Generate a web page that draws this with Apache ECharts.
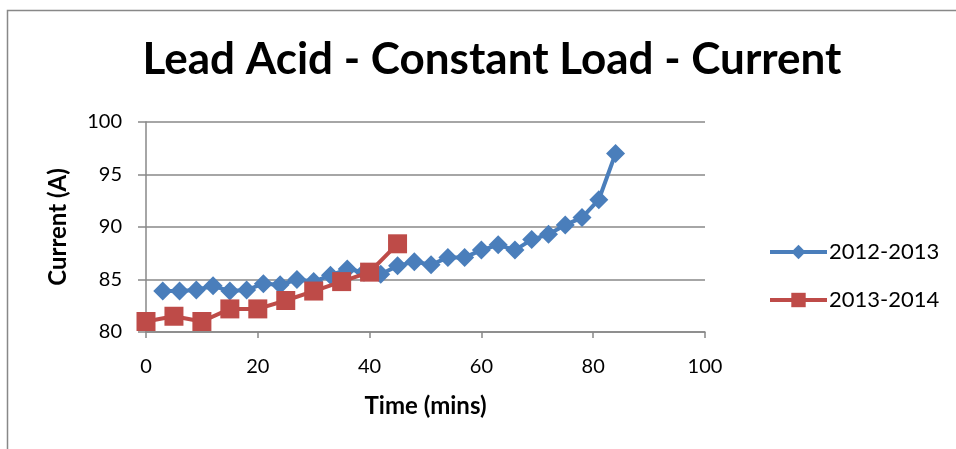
<!DOCTYPE html>
<html>
<head>
<meta charset="utf-8">
<script src="https://cdn.jsdelivr.net/npm/echarts@6/dist/echarts.min.js"></script>
<style>html,body{margin:0;padding:0;background:#fff}#c{width:956px;height:449px}</style>
</head>
<body>
<div id="c"></div>
<script>
const title = 'Lead Acid - Constant Load - Current';
const xTitle = 'Time (mins)';
const yTitle = 'Current (A)';
const names = ['2012-2013', '2013-2014'];
const time2012 = [3,6,9,12,15,18,21,24,27,30,33,36,39,42,45,48,51,54,57,60,63,66,69,72,75,78,81,84];
const current2012 = [83.9,83.9,84.0,84.4,83.9,84.0,84.6,84.5,85.0,84.8,85.4,86.0,85.7,85.5,86.3,86.7,86.4,87.1,87.1,87.8,88.3,87.8,88.8,89.3,90.2,90.9,92.6,97.0];
const time2013 = [0,5,10,15,20,25,30,35,40,45];
const current2013 = [81.0,81.5,81.0,82.2,82.2,83.0,83.9,84.8,85.7,88.4];

const zip = (a, b) => a.map((v, i) => [v, b[i]]);
const font = 'Lato, "Open Sans", sans-serif';
const chart = echarts.init(document.getElementById('c'));
chart.setOption({
  animation: false,
  backgroundColor: '#fff',
  graphic: [{
    type: 'rect', shape: {x: 7.5, y: 10.5, width: 1000, height: 500},
    style: {fill: 'none', stroke: '#888', lineWidth: 1.5}, silent: true, z: -1
  }],
  title: {
    text: title, left: 487, top: 33, textAlign: 'center',
    textStyle: {fontFamily: font, fontWeight: 'bold', fontSize: 44, color: '#000'}
  },
  grid: {left: 146, right: 251, top: 122, bottom: 117},
  legend: {
    orient: 'vertical', left: 763, top: 236, itemWidth: 57, itemHeight: 18, itemGap: 26,
    lineStyle: {width: 4},
    textStyle: {fontFamily: font, fontSize: 22, color: '#000', padding: [0, 0, 0, -3]},
    data: names
  },
  xAxis: {
    type: 'value', min: 0, max: 100, interval: 20,
    name: xTitle, nameLocation: 'middle', nameGap: 62,
    nameTextStyle: {fontFamily: font, fontWeight: 'bold', fontSize: 24, color: '#000'},
    axisLine: {lineStyle: {color: '#888', width: 1.5}},
    axisTick: {show: true, length: 6, lineStyle: {color: '#888', width: 1.5}},
    axisLabel: {fontFamily: font, fontSize: 20, color: '#000', margin: 25},
    splitLine: {show: false}
  },
  yAxis: {
    type: 'value', min: 80, max: 100, interval: 5,
    name: yTitle, nameLocation: 'middle', nameGap: 76, nameRotate: 90,
    nameTextStyle: {fontFamily: font, fontWeight: 'bold', fontSize: 24, color: '#000'},
    axisLine: {show: true, lineStyle: {color: '#888', width: 1.5}},
    axisTick: {show: true, length: 8, lineStyle: {color: '#888', width: 1.5}},
    axisLabel: {fontFamily: font, fontSize: 20, color: '#000', margin: 24},
    splitLine: {show: true, lineStyle: {color: '#888', width: 1.5}}
  },
  series: [
    {
      name: names[0], type: 'line', data: zip(time2012, current2012),
      symbol: 'diamond', symbolSize: [19, 19], showAllSymbol: true,
      lineStyle: {color: '#4A7EBB', width: 4}, itemStyle: {color: '#4A7EBB'}, z: 2
    },
    {
      name: names[1], type: 'line', data: zip(time2013, current2013),
      symbol: 'rect', symbolSize: [19, 19], showAllSymbol: true,
      lineStyle: {color: '#BE4B48', width: 4}, itemStyle: {color: '#BE4B48'}, z: 3
    }
  ]
});
</script>
</body>
</html>
